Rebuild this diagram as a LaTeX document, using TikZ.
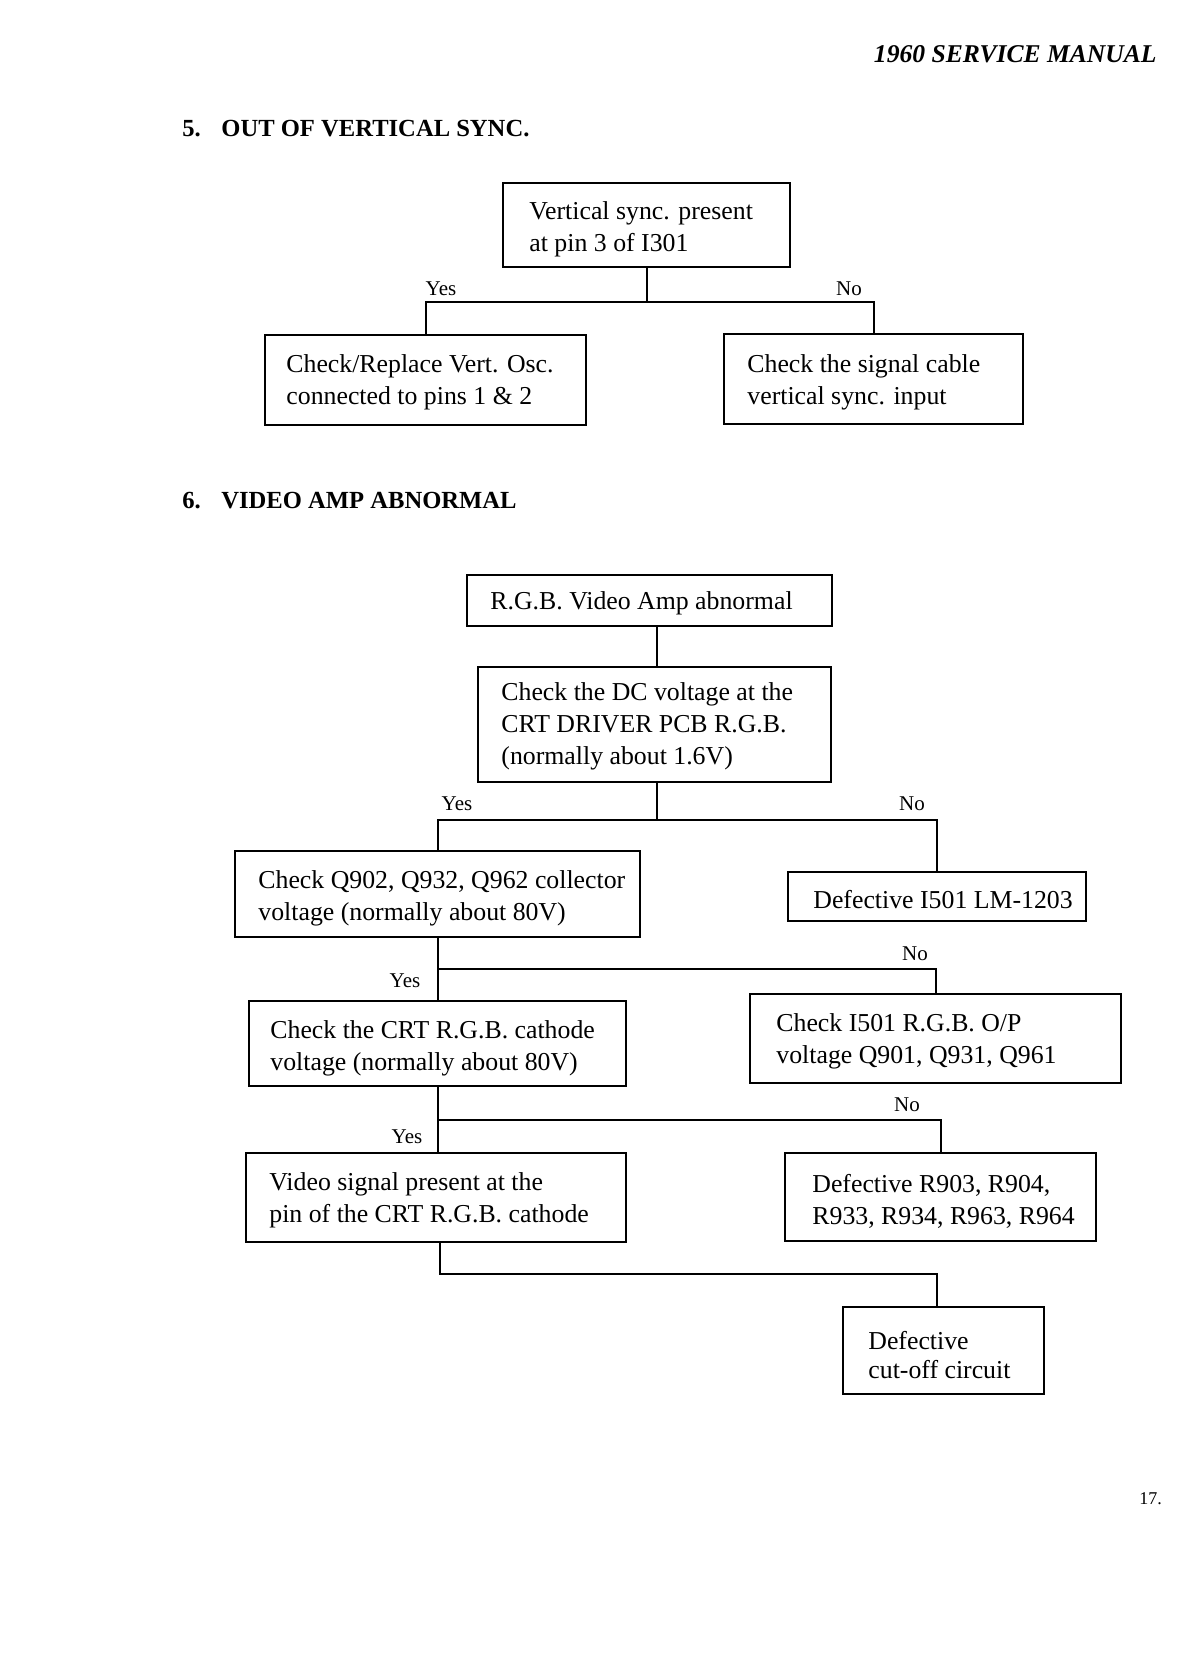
\documentclass[tikz,border=0pt]{standalone}
\usepackage{fontspec}
\setmainfont{Liberation Serif}
\begin{document}
\begin{tikzpicture}[x=0.5pt,y=-0.5pt]
\tikzset{
  bx/.style={draw, line width=1pt, inner sep=0pt},
  txt/.style={inner sep=0pt, anchor=west, align=left, font=\fontsize{12.9}{16}\selectfont},
  lab/.style={inner sep=0pt, font=\fontsize{10.5}{12}\selectfont},
  conn/.style={line width=1pt},
  head/.style={inner sep=0pt, anchor=base west, font=\fontsize{12.3}{14}\selectfont\bfseries}
}
\useasboundingbox (0,0) rectangle (1183,1674);
% header
\node[inner sep=0pt, anchor=base east, font=\fontsize{12.8}{14}\selectfont\bfseries\itshape] (hdr) at (1157,63) {1960 SERVICE MANUAL};
\node[head] (h5) at (182,137) {\makebox[19.5pt][l]{5.}OUT OF VERTICAL SYNC.};
\node[head] (h6) at (182,508) {\makebox[19.5pt][l]{6.}VIDEO AMP ABNORMAL};
\node[inner sep=0pt, anchor=base west, font=\fontsize{9}{10}\selectfont] (pg) at (1139,1504) {17.};

% section 5 boxes
\node[bx, minimum width=143.5pt, minimum height=42pt] (A) at (646.5,225) {};
\node[txt] (tA) at (529,229) {Vertical sync. present\\at pin 3 of I301};
\node[bx, minimum width=160.5pt, minimum height=45pt] (B) at (425.5,380) {};
\node[txt] (tB) at (286,382) {Check/Replace Vert. Osc.\\connected to pins 1 \& 2};
\node[bx, minimum width=149.5pt, minimum height=45pt] (C) at (873.5,379) {};
\node[txt] (tC) at (747,382) {Check the signal cable\\vertical sync. input};

\coordinate (jA) at (646.5,302);
\draw[conn] (A.south) -- (jA);
\draw[conn] (B.north) |- (jA) -| (C.north);
\node[lab] (yes1) at (441,289) {Yes};
\node[lab] (no1) at (849,289) {No};

% section 6 boxes
\node[bx, minimum width=182.5pt, minimum height=25.5pt] (D) at (649.5,600.5) {};
\node[txt] (tD) at (490,603) {R.G.B. Video Amp abnormal};
\node[bx, minimum width=176.5pt, minimum height=57.5pt] (E) at (654.5,724.5) {};
\node[txt] (tE) at (501,726) {Check the DC voltage at the\\CRT DRIVER PCB R.G.B.\\(normally about 1.6V)};
\node[bx, minimum width=202.5pt, minimum height=43pt] (F) at (437.5,894) {};
\node[txt] (tF) at (258,898) {Check Q902, Q932, Q962 collector\\voltage (normally about 80V)};
\node[bx, minimum width=149pt, minimum height=24.5pt] (G) at (937,896.5) {};
\node[txt] (tG) at (813,900) {Defective I501 LM-1203};
\node[bx, minimum width=188.5pt, minimum height=42.5pt] (I) at (437.5,1043.5) {};
\node[txt] (tI) at (270,1048) {Check the CRT R.G.B. cathode\\voltage (normally about 80V)};
\node[bx, minimum width=185.5pt, minimum height=44.5pt] (H) at (935.5,1038.5) {};
\node[txt] (tH) at (776,1041.5) {Check I501 R.G.B. O/P\\voltage Q901, Q931, Q961};
\node[bx, minimum width=190pt, minimum height=44.5pt] (J) at (436,1197.5) {};
\node[txt] (tJ) at (269,1200) {Video signal present at the\\pin of the CRT R.G.B. cathode};
\node[bx, minimum width=155.5pt, minimum height=44pt] (K) at (940.5,1197) {};
\node[txt] (tK) at (812,1201.5) {Defective R903, R904,\\R933, R934, R963, R964};
\node[bx, minimum width=100.5pt, minimum height=43.5pt] (L) at (943.5,1350.5) {};
\node[txt, font=\fontsize{12.9}{14.5}\selectfont] (tL) at (868,1355) {Defective\\cut-off circuit};

% connectors section 6
\coordinate (j1) at (657,820);
\draw[conn] (D.south -| j1) -- (E.north -| j1);
\draw[conn] (E.south -| j1) -- (j1);
\draw[conn] (F.north) |- (j1) -| (G.north);
\node[lab] (yes2) at (457,804) {Yes};
\node[lab] (no2) at (912,804) {No};

\coordinate (j2) at (437.5,969);
\draw[conn] (F.south) -- (I.north);
\draw[conn] (j2) -| (H.north);
\node[lab] (no3) at (915,954) {No};
\node[lab] (yes3) at (405,981) {Yes};

\coordinate (j3) at (437.5,1120);
\draw[conn] (I.south) -- (I.south |- J.north);
\draw[conn] (j3) -| (K.north);
\node[lab] (no4) at (907,1105) {No};
\node[lab] (yes4) at (407,1137) {Yes};

\coordinate (j4) at (440,1274);
\coordinate (j5) at (937,1274);
\draw[conn] (J.south -| j4) -- (j4) -- (j5) -- (j5 |- L.north);
\end{tikzpicture}
\end{document}
